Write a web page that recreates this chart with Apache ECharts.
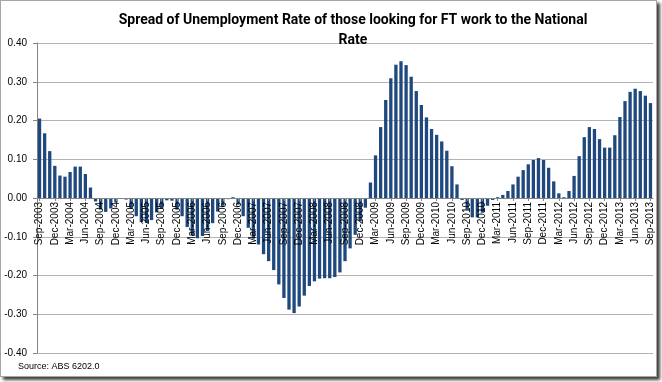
<!DOCTYPE html>
<html><head><meta charset="utf-8">
<script src="https://cdn.jsdelivr.net/npm/echarts@6/dist/echarts.min.js"></script>
<style>
html,body{margin:0;padding:0;background:#fff;}
#frame{position:absolute;left:0;top:0;width:655px;height:375px;border:1px solid #a6a6a6;box-shadow:3px 3px 3px #404040;background:#fff;}
#chart{position:absolute;left:0;top:0;width:662px;height:382px;}
</style></head>
<body><div id="frame"></div><div id="chart"></div>
<script>
// Month labels Sep-2003 .. Sep-2013
const monthNames = ['Jan','Feb','Mar','Apr','May','Jun','Jul','Aug','Sep','Oct','Nov','Dec'];
const startYear = 2003, startMonth = 8, monthCount = 121;
const categories = [];
for (let k = 0; k < monthCount; k++) {
  const m = (startMonth + k) % 12, y = startYear + Math.floor((startMonth + k) / 12);
  categories.push(monthNames[m] + '-' + y);
}
const yTicks = [-0.40,-0.30,-0.20,-0.10,0.00,0.10,0.20,0.30,0.40];

// Spread values (percentage points)
const v2003 = [0.205, 0.167, 0.121, 0.083];                                   // Sep-Dec
const v2004 = [0.058, 0.055, 0.067, 0.081, 0.081, 0.062, 0.027, -0.009, -0.030, -0.036, -0.027, -0.012];
const v2005 = [-0.002, -0.004, -0.028, -0.047, -0.062, -0.064, -0.057, -0.037, -0.028, -0.006, -0.007, -0.030];
const v2006 = [-0.047, -0.075, -0.097, -0.104, -0.098, -0.085, -0.065, -0.035, -0.020, -0.003, 0.002, -0.017];
const v2007 = [-0.047, -0.077, -0.105, -0.120, -0.145, -0.163, -0.186, -0.223, -0.258, -0.288, -0.297, -0.280];
const v2008 = [-0.252, -0.227, -0.215, -0.208, -0.207, -0.207, -0.204, -0.192, -0.163, -0.130, -0.095, -0.060];
const v2009 = [-0.025, 0.040, 0.110, 0.183, 0.253, 0.309, 0.344, 0.353, 0.343, 0.313, 0.276, 0.240];
const v2010 = [0.208, 0.178, 0.163, 0.146, 0.122, 0.082, 0.035, -0.005, -0.030, -0.050, -0.050, -0.038];
const v2011 = [-0.020, -0.005, 0.002, 0.008, 0.018, 0.035, 0.055, 0.072, 0.087, 0.098, 0.103, 0.098];
const v2012 = [0.078, 0.043, 0.012, 0.002, 0.018, 0.057, 0.108, 0.157, 0.183, 0.178, 0.152, 0.130];
const v2013 = [0.130, 0.162, 0.209, 0.250, 0.274, 0.282, 0.276, 0.264, 0.245];  // Jan-Sep
const spread = [].concat(v2003, v2004, v2005, v2006, v2007, v2008, v2009, v2010, v2011, v2012, v2013);

const gridTop = 43, gridBottom = 29, chartH = 382;
const plotH = chartH - gridTop - gridBottom;

const chart = echarts.init(document.getElementById('chart'));
chart.setOption({
  animation: false,
  title: {
    text: 'Spread of Unemployment Rate of those looking for FT work to the National\nRate',
    left: 348, top: 5, textAlign: 'center',
    textStyle: {fontFamily: 'Roboto', fontWeight: 'bold', fontSize: 14, lineHeight: 20, color: '#000'}
  },
  grid: {left: 37, right: 9, top: gridTop, bottom: gridBottom, containLabel: false, outerBoundsMode: 'none'},
  xAxis: {
    type: 'category', data: categories, z: 10,
    position: 'bottom', offset: -plotH / 2,
    axisLine: {onZero: false, lineStyle: {color: '#868686', width: 1}},
    axisTick: {show: true, interval: 2, alignWithLabel: true, length: 3, lineStyle: {color: '#868686'}},
    axisLabel: {interval: 2, rotate: 90, margin: 4, fontSize: 10, color: '#000', fontFamily: 'Liberation Sans'},
    splitLine: {show: false}
  },
  yAxis: {
    type: 'value', min: yTicks[0], max: yTicks[yTicks.length - 1], interval: 0.1,
    axisLine: {show: true, lineStyle: {color: '#868686'}},
    axisTick: {show: true, length: 4, lineStyle: {color: '#868686'}},
    axisLabel: {margin: 10, fontSize: 10, color: '#000', fontFamily: 'Liberation Sans',
      formatter: v => v.toFixed(2)},
    splitLine: {show: true, lineStyle: {color: '#b3b3b3', width: 1}}
  },
  series: [{
    type: 'bar', data: spread, barCategoryGap: '35%',
    itemStyle: {color: '#1F497D'}
  }],
  graphic: [{
    type: 'text', x: 18, y: 367,
    style: {text: 'Source: ABS 6202.0', font: '9px "Liberation Sans"', fill: '#000', textVerticalAlign: 'middle'}
  }]
});
</script></body></html>
